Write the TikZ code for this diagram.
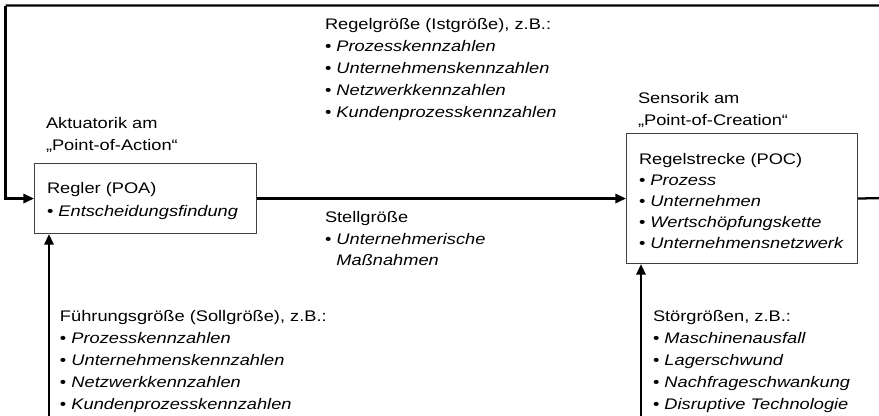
\documentclass[tikz,border=0pt]{standalone}
\usepackage{fontspec}
\setmainfont[FakeStretch=1.19]{Liberation Sans}
\usetikzlibrary{arrows.meta}
\tikzset{
  lbl/.style={anchor=base west, inner sep=0pt, outer sep=0pt, font=\fontsize{11.5}{14}\selectfont},
  blockbox/.style={draw=black!75, line width=0.8pt, fill=white, inner sep=0pt, anchor=north west},
  conn/.style={line width=1.7pt, -{Triangle[length=8pt,width=7pt]}},
  plainconn/.style={line width=1.7pt}
}
\newcommand{\itm}[1]{•\ \textit{#1}}
\begin{document}
\begin{tikzpicture}[x=0.75pt,y=-0.75pt]
\clip (0,0) rectangle (879,415);
\fill[white] (0,0) rectangle (879,415);
% boxes
\node[blockbox, minimum width=222*0.75pt, minimum height=70*0.75pt] (regler) at (34,163) {};
\node[blockbox, minimum width=231*0.75pt, minimum height=130*0.75pt] (strecke) at (626,133) {};
% coordinates
\coordinate (fbR) at (884,198);
\coordinate (fbTL) at (5.5,5.5);
\coordinate (fuehr) at (49,418);
\coordinate (stoer) at (641,418);
% connectors
\draw[plainconn] (strecke.east) -- (fbR) |- (fbTL);
\draw[conn] (fbTL) |- (regler.west);
\draw[conn] (regler.east) -- (strecke.west);
\draw[conn] (fuehr) -- (fuehr |- regler.south);
\draw[conn] (stoer) -- (stoer |- strecke.south);
% Regelgroesse
\node[lbl] (rg0) at (325,29) {Regelgröße (Istgröße), z.B.:};
\node[lbl] (rg1) at (325,51) {\itm{Prozesskennzahlen}};
\node[lbl] (rg2) at (325,73) {\itm{Unternehmenskennzahlen}};
\node[lbl] (rg3) at (325,95) {\itm{Netzwerkkennzahlen}};
\node[lbl] (rg4) at (325,117) {\itm{Kundenprozesskennzahlen}};
% Aktuatorik
\node[lbl] (ak0) at (46,128) {Aktuatorik am};
\node[lbl] (ak1) at (46,150) {„Point-of-Action“};
% Regler
\node[lbl] (re0) at (47,193) {Regler (POA)};
\node[lbl] (re1) at (47,216) {\itm{Entscheidungsfindung}};
% Sensorik
\node[lbl] (se0) at (638,103) {Sensorik am};
\node[lbl] (se1) at (638,125) {„Point-of-Creation“};
% Regelstrecke
\node[lbl] (rs0) at (639,164) {Regelstrecke (POC)};
\node[lbl] (rs1) at (639,185) {\itm{Prozess}};
\node[lbl] (rs2) at (639,206) {\itm{Unternehmen}};
\node[lbl] (rs3) at (639,227) {\itm{Wertschöpfungskette}};
\node[lbl] (rs4) at (639,248) {\itm{Unternehmensnetzwerk}};
% Stellgroesse
\node[lbl] (st0) at (325,222) {Stellgröße};
\node[lbl] (st1) at (325,244) {\itm{Unternehmerische}};
\node[lbl] (st2) at (325,265) {\phantom{•\ }\textit{Maßnahmen}};
% Fuehrungsgroesse
\node[lbl] (fg0) at (60,321) {Führungsgröße (Sollgröße), z.B.:};
\node[lbl] (fg1) at (60,343) {\itm{Prozesskennzahlen}};
\node[lbl] (fg2) at (60,365) {\itm{Unternehmenskennzahlen}};
\node[lbl] (fg3) at (60,387) {\itm{Netzwerkkennzahlen}};
\node[lbl] (fg4) at (60,409) {\itm{Kundenprozesskennzahlen}};
% Stoergroessen
\node[lbl] (sg0) at (653,321) {Störgrößen, z.B.:};
\node[lbl] (sg1) at (653,343) {\itm{Maschinenausfall}};
\node[lbl] (sg2) at (653,365) {\itm{Lagerschwund}};
\node[lbl] (sg3) at (653,387) {\itm{Nachfrageschwankung}};
\node[lbl] (sg4) at (653,409) {\itm{Disruptive Technologie}};
\end{tikzpicture}
\end{document}
